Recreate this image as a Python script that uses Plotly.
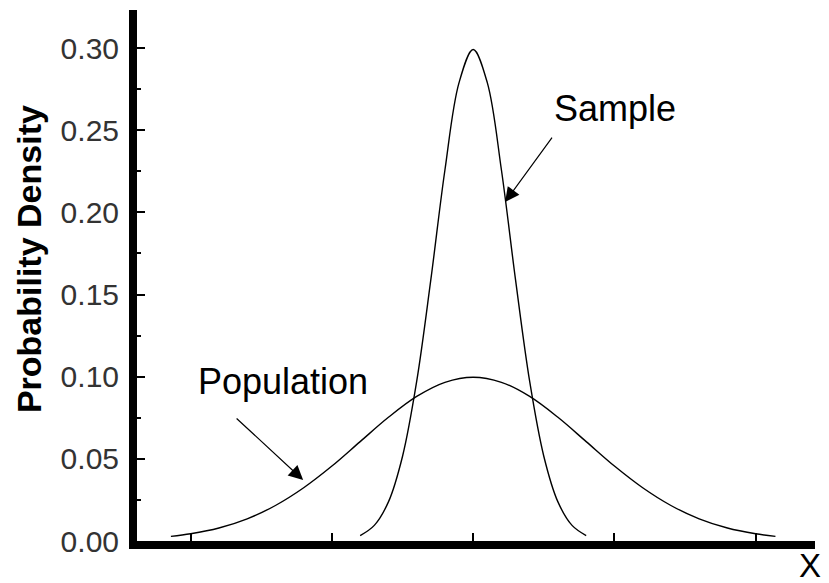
import plotly.graph_objects as go

# Values
pop_x = [-10.7, -10, -9, -8, -7, -6, -5, -4, -3, -2, -1, 0,
         1, 2, 3, 4, 5, 6, 7, 8, 9, 10, 10.7]
pop_y = [0.0028, 0.0044, 0.0079, 0.0135, 0.0216, 0.0324, 0.0456, 0.0605, 0.0753, 0.0880, 0.0966, 0.0997,
         0.0966, 0.0880, 0.0753, 0.0605, 0.0456, 0.0324, 0.0216, 0.0135, 0.0079, 0.0044, 0.0028]

samp_x = [-4.0, -3.5, -3.0, -2.5, -2.0, -1.5, -1.0, -0.5, 0.0,
          0.5, 1.0, 1.5, 2.0, 2.5, 3.0, 3.5, 4.0]
samp_y = [0.0033, 0.0095, 0.0238, 0.0516, 0.0971, 0.1589, 0.2258, 0.2790, 0.2992,
          0.2790, 0.2258, 0.1589, 0.0971, 0.0516, 0.0238, 0.0095, 0.0033]

x_ticks = [-10, -5, 0, 5, 10]
y_ticks = [0.00, 0.05, 0.10, 0.15, 0.20, 0.25, 0.30]
y_tick_text = ["0.00", "0.05", "0.10", "0.15", "0.20", "0.25", "0.30"]

fig = go.Figure()
fig.add_trace(go.Scatter(x=pop_x, y=pop_y, mode="lines", name="Population",
                         line=dict(color="black", width=1.4, shape="spline"),
                         showlegend=False, hoverinfo="skip"))
fig.add_trace(go.Scatter(x=samp_x, y=samp_y, mode="lines", name="Sample",
                         line=dict(color="black", width=1.4, shape="spline"),
                         showlegend=False, hoverinfo="skip"))

ann_font = dict(family="Liberation Sans, Arial, sans-serif", size=36, color="black")

annotations = [
    # labels
    dict(x=2.80, y=0.263, xref="x", yref="y", text="Sample", showarrow=False,
         xanchor="left", yanchor="middle", font=ann_font),
    dict(x=-9.82, y=0.0968, xref="x", yref="y", text="Population", showarrow=False,
         xanchor="left", yanchor="middle", font=ann_font),
    # arrows
    dict(x=1.13, y=0.2063, xref="x", yref="y", text="", showarrow=True,
         ax=48, ay=-66, arrowhead=2, arrowsize=2.4, arrowwidth=1.2, arrowcolor="black"),
    dict(x=-6.02, y=0.0371, xref="x", yref="y", text="", showarrow=True,
         ax=-68, ay=-63, arrowhead=2, arrowsize=2.4, arrowwidth=1.2, arrowcolor="black"),
    # X label
    dict(x=1.0125, y=-0.047, xref="paper", yref="paper", text="X", showarrow=False,
         xanchor="right", yanchor="middle",
         font=dict(family="Liberation Sans, Arial, sans-serif", size=33, color="black")),
    # y title
    dict(x=-0.16, y=0.53, xref="paper", yref="paper", text="<b>Probability Density</b>",
         showarrow=False, textangle=-90, xanchor="center", yanchor="middle",
         font=dict(family="Liberation Sans, Arial, sans-serif", size=34, color="black")),
]

fig.update_layout(
    width=829, height=583,
    margin=dict(l=137, r=14, t=10, b=42),
    paper_bgcolor="white", plot_bgcolor="white",
    annotations=annotations,
    xaxis=dict(range=[-11.9, 12.1], showgrid=False, zeroline=False,
               showline=True, linecolor="black", linewidth=8,
               tickmode="array", tickvals=x_ticks, showticklabels=False,
               ticks="inside", ticklen=8, tickwidth=1.5, tickcolor="black"),
    yaxis=dict(range=[0, 0.3232], showgrid=False, zeroline=False,
               showline=True, linecolor="black", linewidth=8,
               tickmode="array", tickvals=y_ticks, ticktext=y_tick_text,
               ticks="inside", ticklen=8, tickwidth=1.5, tickcolor="black",
               ticklabelstandoff=4,
               tickfont=dict(family="Liberation Sans, Arial, sans-serif", size=30, color="#333"),
               minor=dict(dtick=0.025, tick0=0, ticks="inside", ticklen=4,
                          tickwidth=1.5, tickcolor="black")),
)

fig.write_html("out.html", config={"displayModeBar": False},
               post_script="document.body.style.margin='0';document.body.style.overflow='hidden';")
